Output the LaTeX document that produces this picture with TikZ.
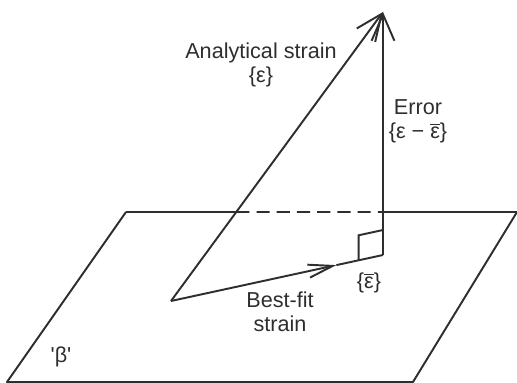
\documentclass[tikz,border=0pt]{standalone}
\usepackage{fontspec}
\setmainfont{Liberation Sans}
\usepackage{tikz}
\usetikzlibrary{arrows.meta,positioning,calc}
\definecolor{ink}{HTML}{2E2E2E}
\newcommand{\lblfont}{\fontsize{12.3}{13.7}\selectfont}
\tikzset{
  % One dark stroke for the plane outline and all vectors.
  ln/.style      = {draw=ink, line width=1.1pt},
  hidden/.style  = {ln, dash pattern=on 7.5pt off 4pt},
  vec/.style     = {ln, -{Straight Barb[length=15pt,width=13pt]}},
  fitvec/.style  = {ln, -{Straight Barb[length=14pt,width=7.5pt]}},
  lbl/.style     = {font=\lblfont, text=ink, align=center, inner sep=1pt},
}

\begin{document}
\begin{tikzpicture}
\useasboundingbox (0,0) rectangle (10.34,7.66);
% plane corners
\coordinate (pTL) at (2.52,3.42);
\coordinate (pTR) at (10.34,3.42);
\coordinate (pBR) at (8.26,0.02);
\coordinate (pBL) at (0.14,0.02);
% vector points
\coordinate (O)    at (3.42,1.64);
\coordinate (apex) at (7.66,7.42);
\coordinate (foot) at (7.66,2.56);
\coordinate (fitTip) at ($(O)!0.78!(foot)$);
\coordinate (crossA) at (intersection of O--apex and pTL--pTR);
\coordinate (crossE) at (foot |- pTL);
% right-angle mark
\coordinate (rmA) at ($(foot)!0.5cm!(O)$);
\coordinate (rmB) at ($(foot)!0.5cm!(apex)$);
\coordinate (rmC) at ($(rmA)+(rmB)-(foot)$);

\draw[ln] (pTL) -- (crossA);
\draw[hidden] (crossA) -- (crossE);
\draw[ln, line join=round] (crossE) -- (pTR) -- (pBR) -- (pBL) -- (pTL);
\draw[vec] (O) -- (apex);
\draw[vec] (foot) -- (apex);
\draw[fitvec] (O) -- (fitTip);
\draw[ln] (fitTip) -- (foot);
\draw[ln] (rmA) -- (rmC) -- (rmB);

\node[lbl] (anaLbl)  at (5.22,6.36) {Analytical strain\\\{ε\}};
\node[lbl] (errLbl)  at (8.36,5.24) {Error\\\{ε − $\overline{\hbox{ε}}$\}};
\node[lbl] (fitLbl)  at (5.60,1.42) {Best-fit\\strain};
\node[lbl] (barEps)  at (7.38,2.00) {\{$\overline{\hbox{ε}}$\}};
\node[lbl] (betaLbl) at (1.22,0.52) {\textquotesingle β\textquotesingle};
\end{tikzpicture}
\end{document}
